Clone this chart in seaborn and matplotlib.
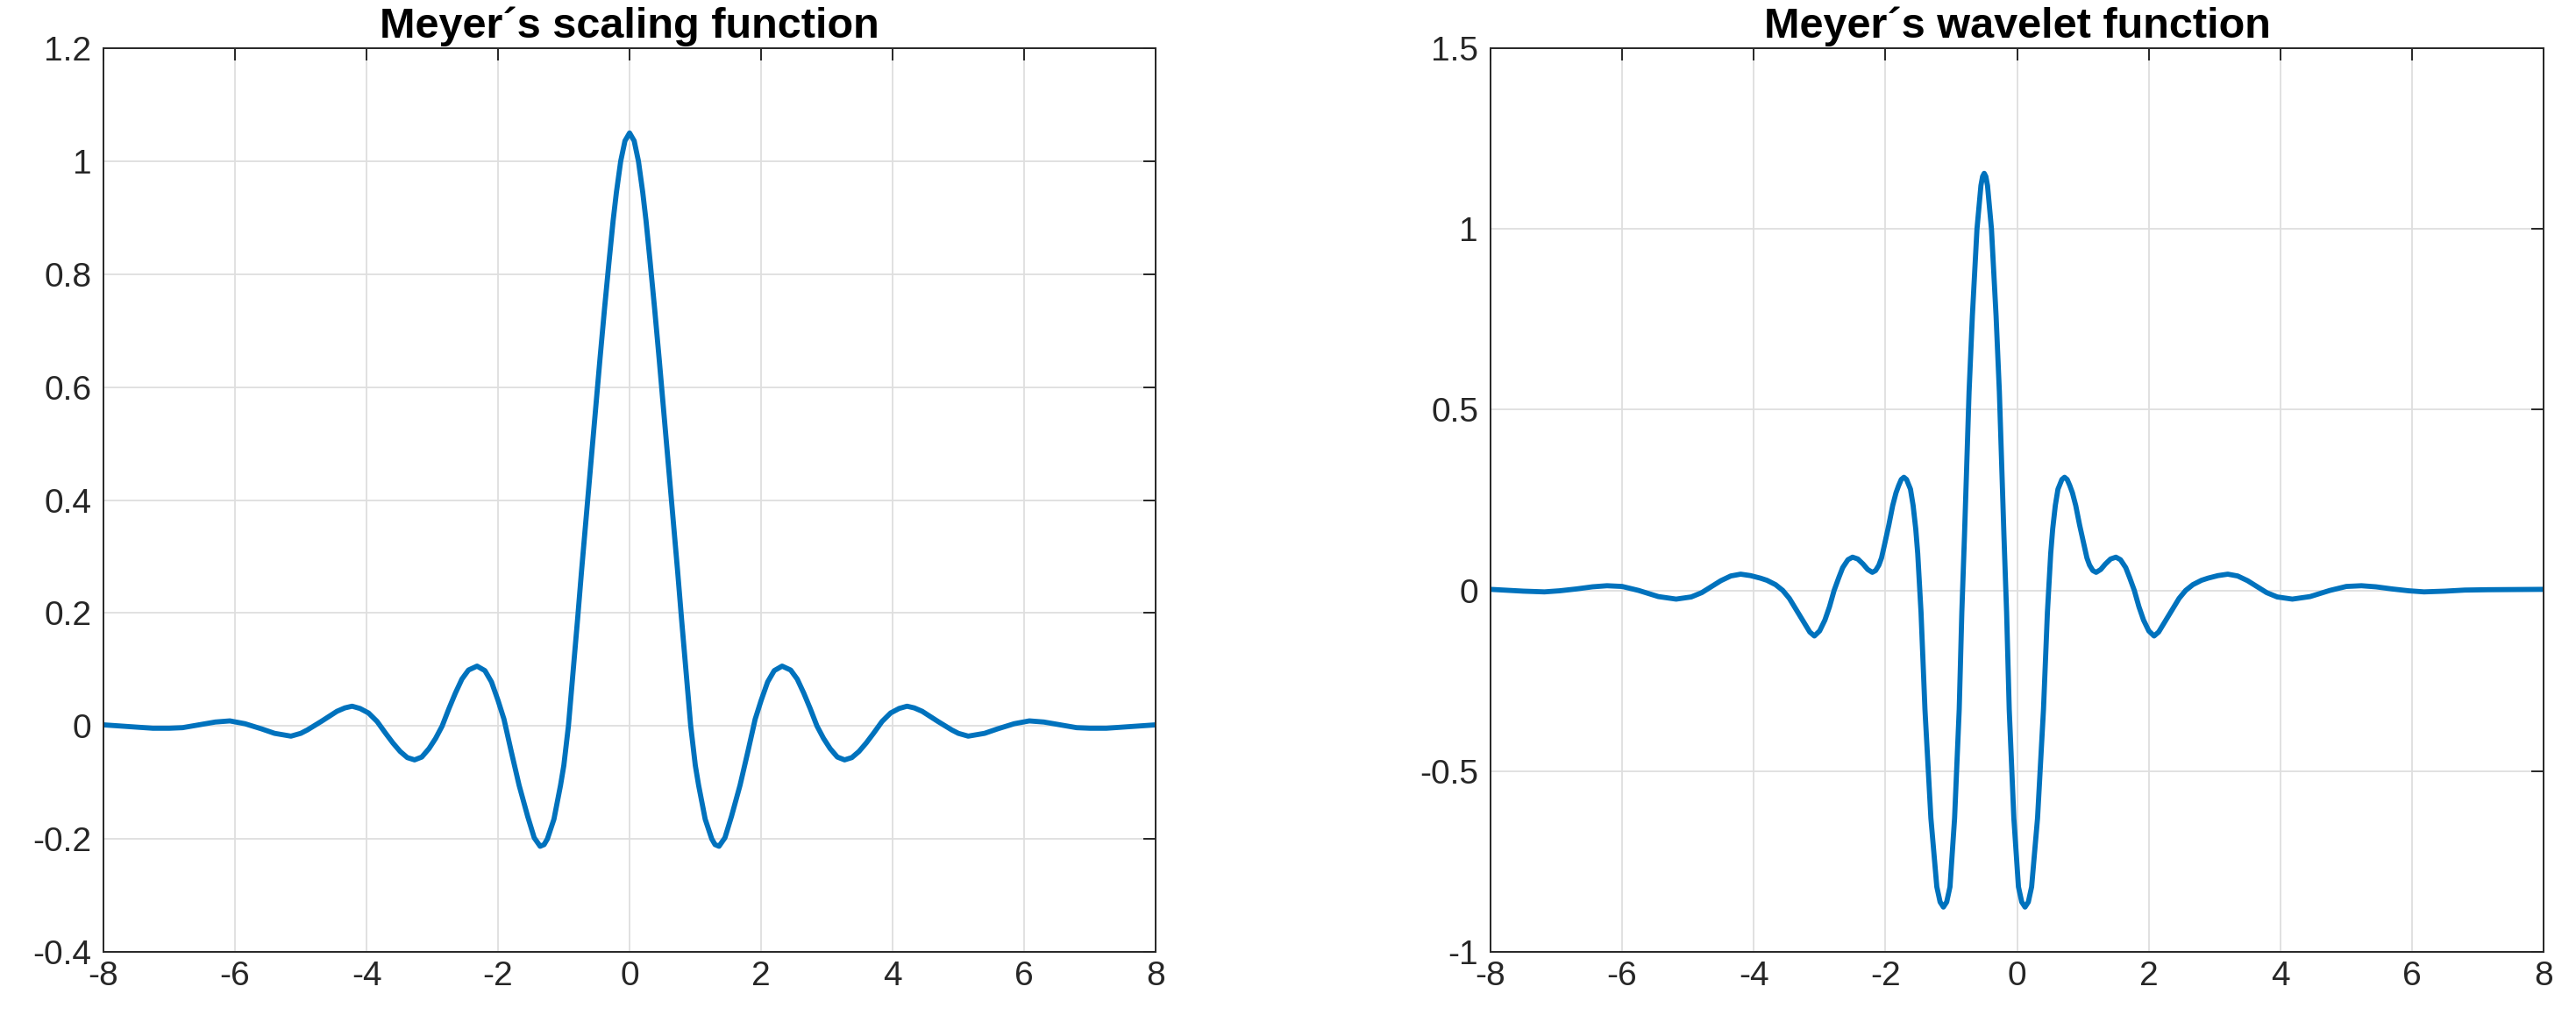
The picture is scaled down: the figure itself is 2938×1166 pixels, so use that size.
import matplotlib
matplotlib.use("Agg")
import matplotlib.pyplot as plt
import seaborn as sns

# Meyer scaling function
phi_x = [-8.0, -7.75, -7.5, -7.25, -7.0, -6.8, -6.55, -6.3, -6.08, -5.85,
         -5.6, -5.4, -5.15, -5.0, -4.9, -4.69, -4.45, -4.33, -4.22, -4.1,
         -3.97, -3.84, -3.71, -3.6, -3.49, -3.38, -3.27, -3.16, -3.05, -2.95,
         -2.85, -2.75, -2.65, -2.55, -2.45, -2.32, -2.2, -2.1, -2.0, -1.91,
         -1.8, -1.68, -1.55, -1.45, -1.36, -1.3, -1.25, -1.15, -1.05, -1.0,
         -0.93, -0.86, -0.79, -0.73, -0.66, -0.6, -0.54, -0.45, -0.38, -0.31,
         -0.25, -0.2, -0.135, -0.07, 0.0,
         0.07, 0.135, 0.2, 0.25, 0.31, 0.38, 0.45, 0.54, 0.6, 0.66,
         0.73, 0.79, 0.86, 0.93, 1.0, 1.05, 1.15, 1.25, 1.3, 1.36,
         1.45, 1.55, 1.68, 1.8, 1.91, 2.0, 2.1, 2.2, 2.32, 2.45,
         2.55, 2.65, 2.75, 2.85, 2.95, 3.05, 3.16, 3.27, 3.38, 3.49,
         3.6, 3.71, 3.84, 3.97, 4.1, 4.22, 4.33, 4.45, 4.69, 4.9,
         5.0, 5.15, 5.4, 5.6, 5.85, 6.08, 6.3, 6.55, 6.8, 7.0,
         7.25, 7.5, 7.75, 8.0]
phi_y = [0.002, 0.0, -0.002, -0.004, -0.004, -0.003, 0.002, 0.007, 0.009, 0.004,
         -0.005, -0.013, -0.018, -0.013, -0.007, 0.008, 0.026, 0.032, 0.035, 0.031,
         0.023, 0.008, -0.013, -0.03, -0.045, -0.056, -0.06, -0.055, -0.04, -0.022,
         0.0, 0.03, 0.058, 0.083, 0.099, 0.106, 0.098, 0.078, 0.045, 0.012,
         -0.045, -0.105, -0.16, -0.198, -0.213, -0.21, -0.2, -0.165, -0.105, -0.07,
         0.0, 0.095, 0.19, 0.275, 0.37, 0.45, 0.53, 0.65, 0.74, 0.825,
         0.895, 0.945, 1.0, 1.036, 1.05,
         1.036, 1.0, 0.945, 0.895, 0.825, 0.74, 0.65, 0.53, 0.45, 0.37,
         0.275, 0.19, 0.095, 0.0, -0.07, -0.105, -0.165, -0.2, -0.21, -0.213,
         -0.198, -0.16, -0.105, -0.045, 0.012, 0.045, 0.078, 0.098, 0.106, 0.099,
         0.083, 0.058, 0.03, 0.0, -0.022, -0.04, -0.055, -0.06, -0.056, -0.045,
         -0.03, -0.013, 0.008, 0.023, 0.031, 0.035, 0.032, 0.026, 0.008, -0.007,
         -0.013, -0.018, -0.013, -0.005, 0.004, 0.009, 0.007, 0.002, -0.003, -0.004,
         -0.004, -0.002, 0.0, 0.002]

# Meyer wavelet function
psi_x = [-8.0, -7.8, -7.5, -7.18, -6.95, -6.7, -6.45, -6.23, -6.0, -5.75,
         -5.45, -5.18, -4.95, -4.79, -4.65, -4.5, -4.35, -4.2, -4.05, -3.9,
         -3.8, -3.67, -3.56, -3.46, -3.34, -3.22, -3.15, -3.08, -3.0, -2.92,
         -2.85, -2.78, -2.71, -2.65, -2.57, -2.5, -2.42, -2.34, -2.27, -2.2,
         -2.15, -2.1, -2.06, -2.02, -1.95, -1.89, -1.84, -1.8, -1.76, -1.72,
         -1.68, -1.62, -1.58, -1.54, -1.51, -1.46, -1.4, -1.31, -1.22, -1.17,
         -1.12, -1.07, -1.02, -0.95, -0.88, -0.84, -0.8, -0.76, -0.73, -0.68,
         -0.61, -0.55, -0.525, -0.5,
         -0.475, -0.45, -0.39, -0.32, -0.27, -0.24, -0.2, -0.16, -0.12, -0.05,
         0.02, 0.07, 0.12, 0.17, 0.22, 0.31, 0.4, 0.46, 0.51, 0.54,
         0.58, 0.62, 0.68, 0.72, 0.76, 0.8, 0.84, 0.89, 0.95, 1.02,
         1.06, 1.1, 1.15, 1.2, 1.27, 1.34, 1.42, 1.5, 1.57, 1.65,
         1.71, 1.78, 1.85, 1.92, 2.0, 2.08, 2.15, 2.22, 2.34, 2.46,
         2.56, 2.67, 2.8, 2.9, 3.05, 3.2, 3.35, 3.5, 3.65, 3.79,
         3.95, 4.18, 4.45, 4.75, 5.0, 5.23, 5.45, 5.7, 5.95, 6.18,
         6.5, 6.8, 7.15, 8.0]
psi_y = [0.003, 0.001, -0.002, -0.004, -0.001, 0.004, 0.01, 0.013, 0.011, 0.0,
         -0.017, -0.024, -0.018, -0.006, 0.01, 0.027, 0.04, 0.045, 0.041, 0.034,
         0.028, 0.016, 0.0, -0.022, -0.058, -0.094, -0.115, -0.126, -0.112, -0.082,
         -0.045, 0.0, 0.035, 0.063, 0.085, 0.092, 0.087, 0.073, 0.058, 0.05,
         0.055, 0.07, 0.09, 0.122, 0.18, 0.235, 0.27, 0.29, 0.307, 0.313,
         0.307, 0.28, 0.235, 0.17, 0.102, -0.06, -0.33, -0.63, -0.82, -0.862,
         -0.876, -0.862, -0.82, -0.63, -0.33, -0.06, 0.15, 0.38, 0.55, 0.76,
         1.0, 1.12, 1.145, 1.154,
         1.145, 1.12, 1.0, 0.76, 0.55, 0.38, 0.15, -0.06, -0.33, -0.63,
         -0.82, -0.862, -0.876, -0.862, -0.82, -0.63, -0.33, -0.06, 0.102, 0.17,
         0.235, 0.28, 0.307, 0.313, 0.307, 0.29, 0.27, 0.235, 0.18, 0.122,
         0.09, 0.07, 0.055, 0.05, 0.058, 0.073, 0.087, 0.092, 0.085, 0.063,
         0.035, 0.0, -0.045, -0.082, -0.112, -0.126, -0.115, -0.094, -0.058, -0.022,
         0.0, 0.016, 0.028, 0.034, 0.041, 0.045, 0.04, 0.027, 0.01, -0.006,
         -0.018, -0.024, -0.017, 0.0, 0.011, 0.013, 0.01, 0.004, -0.001, -0.004,
         -0.002, 0.001, 0.002, 0.003]

x_ticks = [-8, -6, -4, -2, 0, 2, 4, 6, 8]
x_labels = ["-8", "-6", "-4", "-2", "0", "2", "4", "6", "8"]
phi_ticks = [-0.4, -0.2, 0, 0.2, 0.4, 0.6, 0.8, 1.0, 1.2]
phi_labels = ["-0.4", "-0.2", "0", "0.2", "0.4", "0.6", "0.8", "1", "1.2"]
psi_ticks = [-1, -0.5, 0, 0.5, 1, 1.5]
psi_labels = ["-1", "-0.5", "0", "0.5", "1", "1.5"]

sns.set_theme(style="white")
plt.rcParams['font.family'] = ['Liberation Sans', 'DejaVu Sans']

line_color = '#0072BD'
axis_color = '#262626'

fig = plt.figure(figsize=(29.38, 11.66), dpi=100)
ax1 = fig.add_axes([0.0402, 0.0686, 0.4084, 0.8842])
ax2 = fig.add_axes([0.5786, 0.0686, 0.4089, 0.8842])


def style_axis(ax, yticks, ylabels, ylim, title):
    ax.set_xlim(-8, 8)
    ax.set_ylim(*ylim)
    ax.set_xticks(x_ticks)
    ax.set_xticklabels(x_labels)
    ax.set_yticks(yticks)
    ax.set_yticklabels(ylabels)
    ax.set_xlabel('')
    ax.set_ylabel('')
    ax.grid(True, color='#dedede', linewidth=1.3)
    ax.set_axisbelow(True)
    for sp in ax.spines.values():
        sp.set_visible(True)
        sp.set_color(axis_color)
        sp.set_linewidth(1.4)
    ax.tick_params(direction='in', top=True, right=True, length=10, width=1.4,
                   colors=axis_color, labelsize=28)
    ax.tick_params(axis='x', pad=7)
    ax.tick_params(axis='y', pad=10)
    ax.set_title(title, fontsize=35, fontweight='bold', color='black', pad=9)


sns.lineplot(x=phi_x, y=phi_y, ax=ax1, color=line_color, linewidth=4.2,
             sort=False, estimator=None)
style_axis(ax1, phi_ticks, phi_labels, (-0.4, 1.2), 'Meyer\u00b4s scaling function')

sns.lineplot(x=psi_x, y=psi_y, ax=ax2, color=line_color, linewidth=4.2,
             sort=False, estimator=None)
style_axis(ax2, psi_ticks, psi_labels, (-1, 1.5), 'Meyer\u00b4s wavelet function')

for ax in (ax1, ax2):
    for ln in ax.get_lines():
        ln.set_solid_joinstyle('round')
        ln.set_solid_capstyle('round')

fig.savefig('out.png', dpi=100)
plt.close(fig)
